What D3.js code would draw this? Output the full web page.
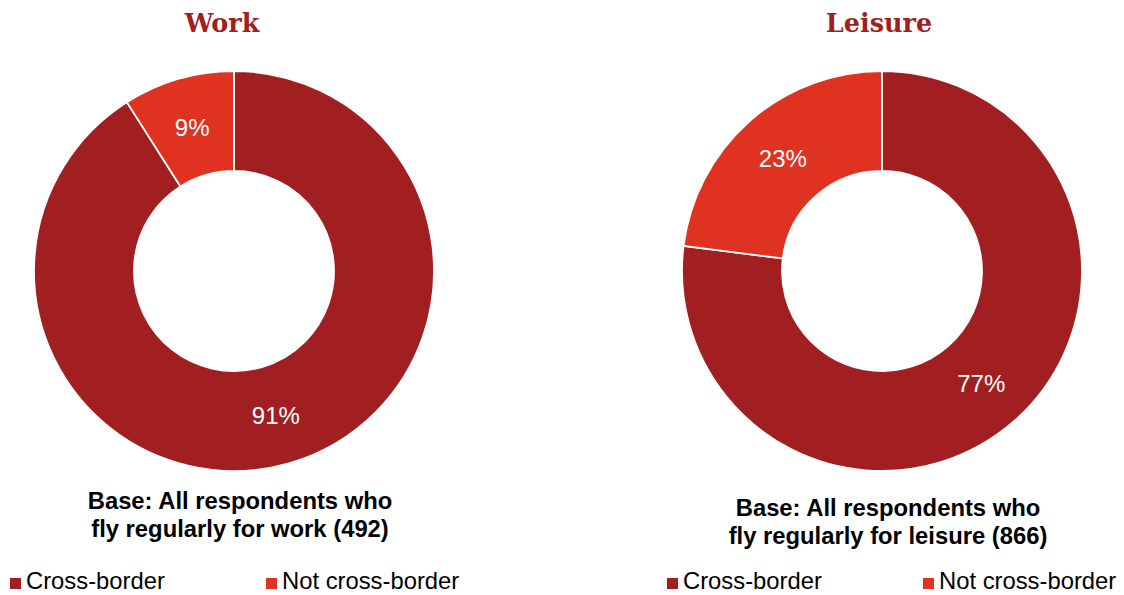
<!DOCTYPE html>
<html><head><meta charset="utf-8">
<script src="https://cdn.jsdelivr.net/npm/d3@7"></script>
<style>body{margin:0;background:#fff}svg{display:block}</style>
</head><body>
<svg id="c" width="1124" height="595"></svg>
<script>
const categories = ["Cross-border", "Not cross-border"];
const chartTitles = ["Work", "Leisure"];
const workValues = [91, 9];
const leisureValues = [77, 23];
const baseNotes = [
  ["Base: All respondents who", "fly regularly for work (492)"],
  ["Base: All respondents who", "fly regularly for leisure (866)"]
];

const colors = d3.scaleOrdinal().domain(categories).range(["#A11F21", "#E03220"]);
const svg = d3.select("#c");
const charts = [
  {title: chartTitles[0], values: workValues, note: baseNotes[0], cx: 234, cy: 271, tx: 222, nx: 240, ny: 509, lx: 10, lx2: 266},
  {title: chartTitles[1], values: leisureValues, note: baseNotes[1], cx: 882, cy: 271, tx: 879, nx: 888, ny: 516, lx: 667, lx2: 923}
];
const pie = d3.pie().sort(null).value(d => d.v);
const arc = d3.arc().innerRadius(100).outerRadius(200);

charts.forEach(c => {
  const data = categories.map((k, i) => ({k, v: c.values[i]}));
  const g = svg.append("g").attr("transform", `translate(${c.cx},${c.cy})`);
  const arcs = pie(data);
  g.selectAll("path").data(arcs).join("path")
    .attr("d", arc).attr("fill", d => colors(d.data.k))
    .attr("stroke", "#fff").attr("stroke-width", 1.8);
  g.selectAll("text").data(arcs).join("text")
    .attr("transform", d => `translate(${arc.centroid(d)})`)
    .attr("text-anchor", "middle").attr("dy", "0.36em")
    .attr("fill", "#fff").style("font", "24px 'Liberation Sans', Arial, sans-serif")
    .text(d => d.data.v + "%");
  svg.append("text").attr("x", c.tx).attr("y", 32).attr("text-anchor", "middle")
    .attr("fill", "#A11F21").style("font", "bold 25.5px 'DejaVu Serif', Georgia, serif")
    .text(c.title);
  c.note.forEach((t, i) => {
    svg.append("text").attr("x", c.nx).attr("y", c.ny + i * 27.5).attr("text-anchor", "middle")
      .attr("fill", "#000").style("font", "bold 23.8px 'Liberation Sans', Arial, sans-serif")
      .text(t);
  });
  [c.lx, c.lx2].forEach((x, i) => {
    svg.append("rect").attr("x", x).attr("y", 578).attr("width", 11).attr("height", 11)
      .attr("fill", colors(categories[i]));
    svg.append("text").attr("x", x + 16).attr("y", 589)
      .attr("fill", "#000").style("font", "23.8px 'Liberation Sans', Arial, sans-serif")
      .text(categories[i]);
  });
});
</script>
</body></html>
